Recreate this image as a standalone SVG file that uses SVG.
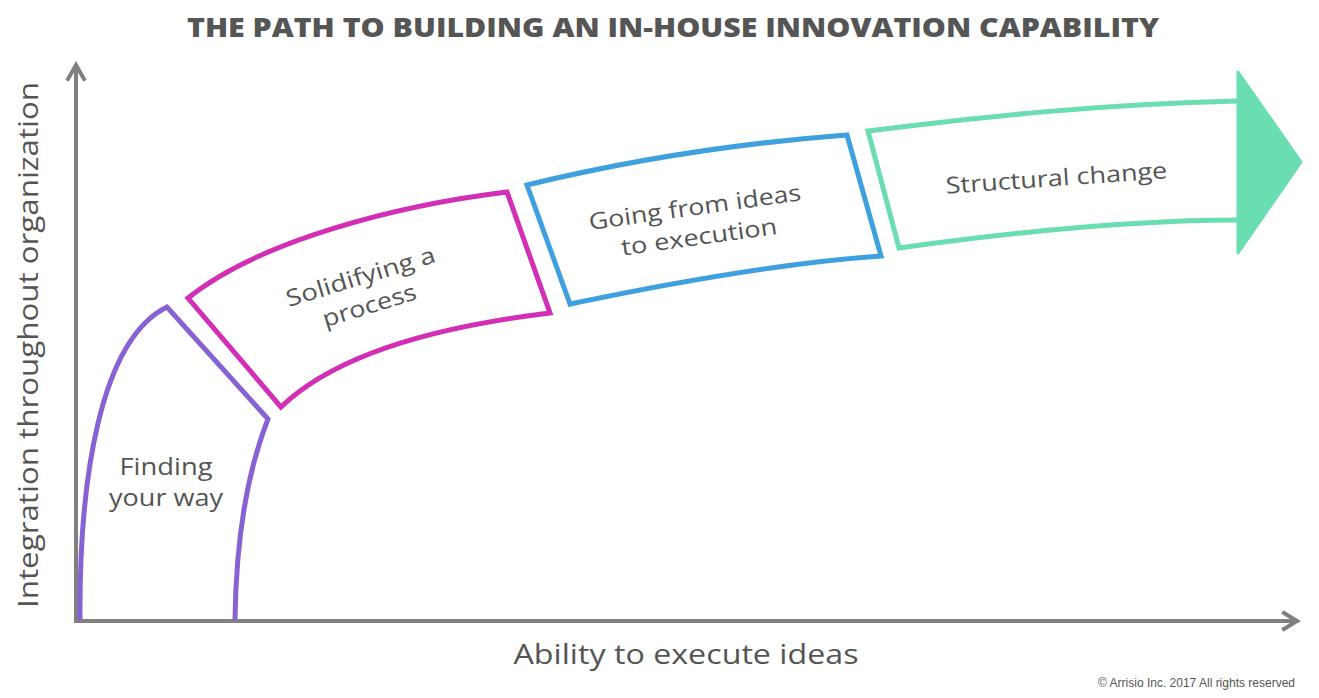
<svg xmlns="http://www.w3.org/2000/svg" width="1319" height="698" viewBox="0 0 1319 698">
<style>
  .axis{fill:none;stroke:#808080;stroke-width:4;stroke-linecap:square}
  .seg{fill:none;stroke-width:5;stroke-linejoin:miter}
  .lbl{font-family:"Open Sans","Liberation Sans",sans-serif;font-size:23px;fill:#555;text-anchor:middle}
  .axl{font-family:"Open Sans","Liberation Sans",sans-serif;font-size:27px;fill:#555;text-anchor:middle}
</style>
<rect width="1319" height="698" fill="#fff"/>
<g id="title">
  <text x="673" y="37" font-family="'Open Sans','Liberation Sans',sans-serif" font-weight="800" font-size="27" fill="#555" text-anchor="middle" textLength="972" lengthAdjust="spacingAndGlyphs">THE PATH TO BUILDING AN IN-HOUSE INNOVATION CAPABILITY</text>
</g>
<g id="connectors">
  <path class="axis" d="M76 621 V66 M68 79 L76 65 L84 79"/>
  <path class="axis" d="M76 621 H1296 M1284 613 L1297 621 L1284 629"/>
</g>
<g id="axis-labels">
  <text class="axl" transform="translate(38,345) rotate(-90)" textLength="526" lengthAdjust="spacingAndGlyphs">Integration throughout organization</text>
  <text class="axl" x="686" y="664" textLength="345" lengthAdjust="spacingAndGlyphs">Ability to execute ideas</text>
</g>
<g id="finding">
  <path class="seg" stroke="#8662D3" d="M80 620 C79 480 100 340 167 307 L268 419 C248 470 236 540 235 620"/>
  <text class="lbl" x="166" y="475" textLength="93" lengthAdjust="spacingAndGlyphs">Finding</text>
  <text class="lbl" x="166" y="506" textLength="114" lengthAdjust="spacingAndGlyphs">your way</text>
</g>
<g id="solidifying">
  <path class="seg" stroke="#D22FB6" d="M188 298 C260 240 400 205 507 192 L550 313 C450 325 340 350 281 407 Z"/>
  <g transform="translate(365,291) rotate(-17)">
    <text class="lbl" x="0" y="-7" textLength="155" lengthAdjust="spacingAndGlyphs">Solidifying a</text>
    <text class="lbl" x="0" y="23" textLength="97" lengthAdjust="spacingAndGlyphs">process</text>
  </g>
</g>
<g id="going">
  <path class="seg" stroke="#3FA0E0" d="M527 185 C630 160 740 143 847 135 L881 256 C780 263 670 283 570 304 Z"/>
  <g transform="translate(697,222) rotate(-8)">
    <text class="lbl" x="0" y="-7" textLength="214" lengthAdjust="spacingAndGlyphs">Going from ideas</text>
    <text class="lbl" x="0" y="23" textLength="157" lengthAdjust="spacingAndGlyphs">to execution</text>
  </g>
</g>
<g id="structural">
  <path class="seg" stroke="#6ADEB0" d="M1238 101 C1100 104 980 117 868 131 L899 248 C1000 234 1120 220 1238 220"/>
  <path d="M1238 72 L1301 162 L1238 253 Z" fill="#6ADEB0" stroke="#6ADEB0" stroke-width="3" stroke-linejoin="round"/>
  <text class="lbl" transform="translate(1057,186) rotate(-4)" textLength="222" lengthAdjust="spacingAndGlyphs">Structural change</text>
</g>
<g id="copyright">
  <text x="1295" y="687" font-family="'Liberation Sans',Arial,sans-serif" font-size="12" fill="#555" text-anchor="end">© Arrisio Inc. 2017 All rights reserved</text>
</g>
</svg>
